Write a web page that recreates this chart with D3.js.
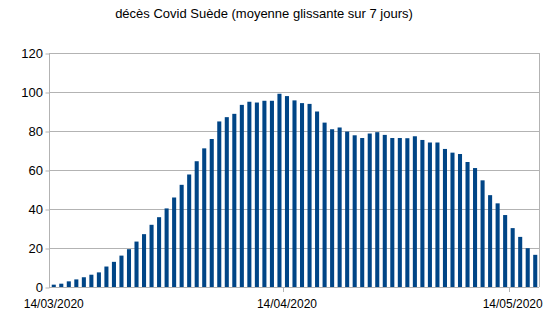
<!DOCTYPE html>
<html>
<head>
<meta charset="utf-8">
<script src="https://cdn.jsdelivr.net/npm/d3@7"></script>
<style>
  body { margin: 0; background: #fff; }
  svg { display: block; font-family: "Liberation Sans", Arial, sans-serif; }
</style>
</head>
<body>
<div id="chart"></div>
<script>
// 7-day rolling average of deaths, 14/03/2020 -> 17/05/2020
var startDate = new Date(2020, 2, 14);
var values = [
  1.2, 1.7, 2.9, 3.9, 5.0, 6.3, 7.5, 10.5, 12.9, 16.1,
  19.4, 23.3, 27.1, 31.9, 35.8, 40.3, 45.9, 52.4, 57.7, 64.5,
  71.1, 75.9, 84.9, 87.1, 88.8, 93.4, 95.0, 94.6, 95.5, 95.5,
  99.1, 97.9, 95.7, 94.3, 93.9, 90.0, 84.3, 80.9, 81.8, 79.7,
  77.8, 76.4, 78.7, 79.4, 78.0, 76.4, 76.4, 76.3, 77.3, 75.4,
  74.1, 74.1, 70.8, 68.9, 68.2, 64.1, 61.0, 54.7, 47.1, 42.9,
  36.9, 30.2, 25.7, 19.9, 16.5
];
var yTicks = [0, 20, 40, 60, 80, 100, 120];
var xTickLabels = ["14/03/2020", "14/04/2020", "14/05/2020"];

var fmt = d3.timeFormat("%d/%m/%Y");
var data = values.map(function (v, i) {
  return { date: fmt(d3.timeDay.offset(startDate, i)), value: v };
});

var W = 554, H = 329;
var margin = { top: 53, right: 15, bottom: 42, left: 50 };
var width = W - margin.left - margin.right,
    height = H - margin.top - margin.bottom;

var svg = d3.select("#chart").append("svg")
  .attr("width", W).attr("height", H);

svg.append("text")
  .attr("x", 264).attr("y", 18)
  .attr("text-anchor", "middle")
  .attr("font-size", "13px")
  .attr("fill", "#000")
  .text("décès Covid Suède (moyenne glissante sur 7 jours)");

var g = svg.append("g")
  .attr("transform", "translate(" + margin.left + "," + margin.top + ")");

var x = d3.scaleBand()
  .domain(data.map(function (d) { return d.date; }))
  .range([0, width])
  .padding(0);

var y = d3.scaleLinear().domain([0, 120]).range([height, 0]);

// grid
g.selectAll(".grid").data(yTicks).enter().append("line")
  .attr("x1", 0).attr("x2", width)
  .attr("y1", function (d) { return y(d) + 0.5; })
  .attr("y2", function (d) { return y(d) + 0.5; })
  .attr("stroke", "#b3b3b3");

// right border
g.append("line")
  .attr("x1", width + 0.5).attr("x2", width + 0.5)
  .attr("y1", 0).attr("y2", height)
  .attr("stroke", "#b3b3b3");

// bars
var barW = x.bandwidth() * 0.54;
g.selectAll(".bar").data(data).enter().append("rect")
  .attr("class", "bar")
  .attr("fill", "#004586")
  .attr("x", function (d) { return x(d.date) + (x.bandwidth() - barW) / 2; })
  .attr("width", barW)
  .attr("y", function (d) { return y(d.value); })
  .attr("height", function (d) { return height - y(d.value); });

// y axis
var gy = g.append("g").call(d3.axisLeft(y).tickValues(yTicks).tickSize(4).tickPadding(3));
gy.select(".domain").attr("stroke", "#b3b3b3").attr("d", "M-0.5,0V" + (height + 1));
gy.selectAll(".tick line").attr("stroke", "#b3b3b3").attr("transform", "translate(-0.5,0.5)");
gy.selectAll(".tick text").attr("font-size", "13px").attr("fill", "#000")
  .attr("font-family", "Liberation Sans, Arial, sans-serif");

// x axis: ticks on category boundaries, labels centred on the category
var gx = g.append("g").attr("transform", "translate(0," + height + ")");
gx.selectAll(".xtick").data(xTickLabels.slice(1)).enter().append("line")
  .attr("x1", function (d) { return Math.round(x(d)) + 0.5; })
  .attr("x2", function (d) { return Math.round(x(d)) + 0.5; })
  .attr("y1", 0).attr("y2", 5)
  .attr("stroke", "#b3b3b3");
gx.selectAll(".xlabel").data(xTickLabels).enter().append("text")
  .attr("x", function (d) { return x(d) + x.bandwidth() / 2; })
  .attr("y", 21)
  .attr("text-anchor", "middle")
  .attr("font-size", "12px")
  .attr("fill", "#000")
  .text(function (d) { return d; });
</script>
</body>
</html>
